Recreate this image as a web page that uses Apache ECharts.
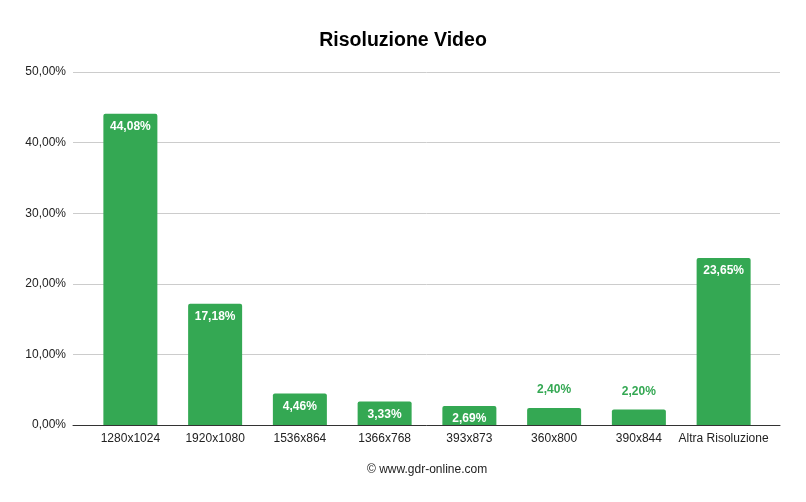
<!DOCTYPE html>
<html><head><meta charset="utf-8">
<script src="https://cdn.jsdelivr.net/npm/echarts@6/dist/echarts.min.js"></script>
<style>html,body{margin:0;padding:0;background:#fff}#c{width:806px;height:502px}</style>
</head><body><div id="c"></div>
<script>
const categories = ['1280x1024','1920x1080','1536x864','1366x768','393x873','360x800','390x844','Altra Risoluzione'];
const values = [44.08, 17.18, 4.46, 3.33, 2.69, 2.40, 2.20, 23.65];
const outsideLabel = [false, false, false, false, false, true, true, false];
const yTicks = [0, 10, 20, 30, 40, 50];

const green = '#34a853';
const fmt = v => v.toFixed(2).replace('.', ',') + '%';
const font = '"Liberation Sans", Arial, sans-serif';

const chart = echarts.init(document.getElementById('c'), null, {renderer: 'canvas'});
chart.setOption({
  animation: false,
  backgroundColor: '#fff',
  title: [{
    text: 'Risoluzione Video', left: 'center', top: 26,
    textStyle: {fontFamily: font, fontSize: 19.5, fontWeight: 'bold', color: '#000'}
  }, {
    text: '© www.gdr-online.com', left: 362, top: 459,
    textStyle: {fontFamily: font, fontSize: 12, fontWeight: 'normal', color: '#222'}
  }],
  grid: [
    {left: 73, right: 26, top: 72, bottom: 77},
    {left: 88, right: 40, top: 72, bottom: 77}
  ],
  xAxis: [
    {gridIndex: 0, type: 'category', data: categories, axisLabel: {show: false}, axisTick: {show: false},
     axisLine: {show: true, lineStyle: {color: '#333', width: 1}}},
    {gridIndex: 1, type: 'category', data: categories, axisTick: {show: false}, axisLine: {show: false},
     axisLabel: {fontFamily: font, fontSize: 12, color: '#222', margin: 8, interval: 0}}
  ],
  yAxis: [
    {gridIndex: 0, type: 'value', min: 0, max: 50, interval: 10,
     axisLabel: {fontFamily: font, fontSize: 12, color: '#222', margin: 7, formatter: v => fmt(v)},
     splitLine: {lineStyle: {color: '#cccccc'}}, axisLine: {show: false}, axisTick: {show: false}},
    {gridIndex: 1, type: 'value', min: 0, max: 50, interval: 10, show: false, splitLine: {show: false}}
  ],
  series: [{
    type: 'bar', xAxisIndex: 1, yAxisIndex: 1, barWidth: 54,
    itemStyle: {color: green, borderRadius: [2, 2, 0, 0]},
    data: values.map((v, i) => ({
      value: v,
      label: outsideLabel[i]
        ? {show: true, position: 'top', distance: 12, color: green, fontFamily: font, fontSize: 12, fontWeight: 'bold', formatter: p => fmt(p.value)}
        : {show: true, position: 'insideTop', distance: 7, color: '#fff', fontFamily: font, fontSize: 12, fontWeight: 'bold', formatter: p => fmt(p.value)}
    }))
  }]
});
</script></body></html>
